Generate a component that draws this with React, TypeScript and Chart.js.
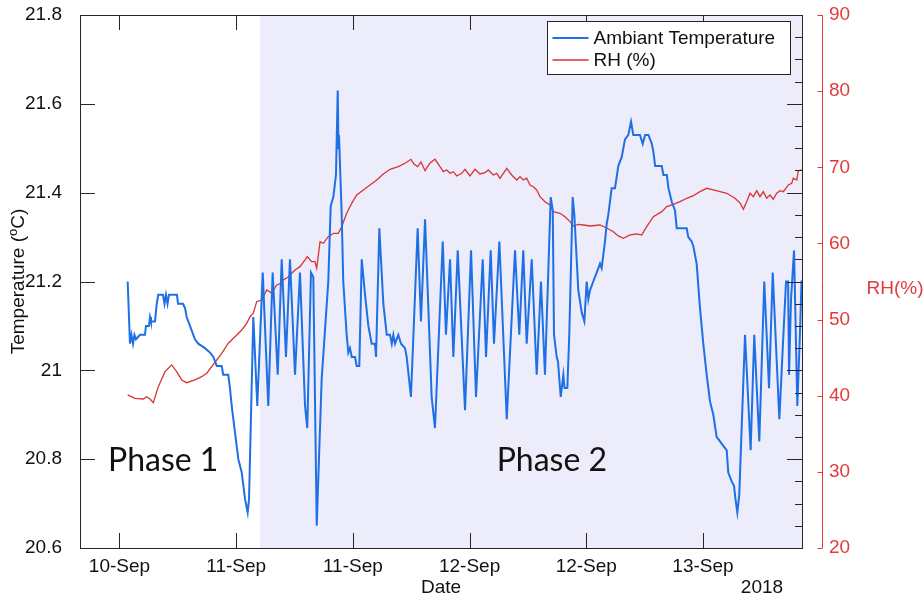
import React, { useEffect, useRef } from "react";
import { Chart, registerables } from "chart.js";
Chart.register(...registerables);

// hours since 10-Sep 00:00
const tempHours = [
  12.84, 13.08, 13.23, 13.39, 13.54, 13.70, 14.11, 14.62, 14.72, 15.03,
  15.14, 15.24, 15.65, 15.83, 15.99, 16.47, 16.63, 16.78, 16.94, 17.09,
  17.91, 18.02, 18.53, 18.74, 18.91, 19.25, 19.59, 19.76, 20.10, 20.79,
  21.31, 21.65, 22.00, 22.51, 22.67, 23.19, 23.36, 23.54, 23.88, 24.22,
  24.57, 24.91, 25.18, 25.32, 25.76, 26.17, 26.73, 27.30, 27.75, 28.27,
  28.68, 29.12, 29.53, 30.05, 30.56, 31.08, 31.31, 31.69, 31.93, 32.28,
  32.79, 33.47, 33.72, 33.99, 34.26, 34.44, 34.52, 34.57, 34.85, 35.01,
  35.36, 35.53, 35.70, 35.88, 36.22, 36.39, 36.66, 36.91, 37.25, 37.59,
  37.76, 37.93, 38.27, 38.38, 38.72, 39.13, 39.48, 39.82, 40.00, 40.16,
  40.33, 40.67, 40.95, 41.36, 41.53, 41.97, 42.66, 43.00, 43.42, 44.10,
  44.44, 45.24, 45.57, 45.99, 46.33, 46.78, 47.53, 48.15, 48.66, 49.35,
  49.69, 50.17, 50.51, 51.06, 51.82, 52.67, 53.11, 53.52, 53.87, 54.39,
  54.90, 55.34, 55.75, 56.34, 56.55, 56.68, 56.96, 57.09, 57.37, 57.64,
  57.76, 58.05, 58.25, 58.60, 58.77, 59.01, 59.18, 59.53, 59.80, 60.04,
  60.21, 60.38, 60.72, 61.07, 61.41, 61.58, 61.92, 62.10, 62.26, 62.61,
  62.95, 63.29, 63.64, 63.98, 64.32, 64.60, 64.83, 65.52, 65.80, 66.05,
  66.39, 66.74, 66.91, 67.08, 67.76, 67.93, 68.28, 68.45, 68.78, 69.12,
  69.30, 70.32, 70.49, 70.84, 71.00, 71.35, 71.69, 72.03, 72.38, 72.72,
  73.06, 73.40, 73.75, 74.09, 74.44, 74.60, 74.95, 75.19, 75.34, 75.53,
  75.73, 76.32, 76.90, 77.27, 77.79, 78.30, 78.79, 79.17, 79.85, 80.20,
  80.54, 80.75, 80.85, 81.05, 81.36, 81.70, 81.98, 82.13, 82.28,
];

const tempValues = [
  21.20, 21.06, 21.08, 21.06, 21.08, 21.07, 21.08, 21.08, 21.10, 21.10,
  21.12, 21.11, 21.11, 21.15, 21.17, 21.17, 21.15, 21.17, 21.15, 21.17,
  21.17, 21.15, 21.15, 21.14, 21.12, 21.10, 21.08, 21.07, 21.06, 21.05,
  21.04, 21.03, 21.01, 21.01, 20.99, 20.99, 20.96, 20.92, 20.86, 20.80,
  20.77, 20.71, 20.68, 20.71, 21.12, 20.92, 21.22, 20.92, 21.22, 20.99,
  21.25, 21.03, 21.25, 20.99, 21.22, 20.92, 20.87, 21.22, 21.21, 20.65,
  20.98, 21.20, 21.37, 21.39, 21.44, 21.63, 21.50, 21.53, 21.35, 21.20,
  21.08, 21.04, 21.05, 21.03, 21.03, 21.01, 21.01, 21.25, 21.17, 21.10,
  21.08, 21.06, 21.06, 21.03, 21.32, 21.15, 21.08, 21.08, 21.06, 21.08,
  21.06, 21.08, 21.06, 21.05, 21.03, 20.94, 21.32, 21.11, 21.34, 20.94,
  20.87, 21.29, 21.08, 21.25, 21.03, 21.27, 20.91, 21.27, 20.94, 21.25,
  21.03, 21.27, 21.06, 21.29, 20.89, 21.27, 21.08, 21.27, 21.06, 21.25,
  20.99, 21.20, 20.99, 21.39, 21.36, 21.08, 21.03, 21.02, 20.94, 20.99,
  20.96, 20.96, 21.08, 21.39, 21.35, 21.25, 21.18, 21.13, 21.11, 21.20,
  21.16, 21.18, 21.20, 21.22, 21.24, 21.23, 21.29, 21.33, 21.35, 21.41,
  21.41, 21.46, 21.48, 21.52, 21.53, 21.56, 21.53, 21.53, 21.51, 21.53,
  21.53, 21.51, 21.49, 21.46, 21.46, 21.44, 21.44, 21.41, 21.38, 21.36,
  21.32, 21.32, 21.30, 21.29, 21.28, 21.24, 21.14, 21.06, 20.99, 20.93,
  20.90, 20.85, 20.84, 20.83, 20.82, 20.77, 20.75, 20.74, 20.71, 20.68,
  20.72, 21.08, 20.82, 21.08, 20.84, 21.20, 20.96, 21.22, 20.89, 21.05,
  21.20, 21.20, 20.99, 21.16, 21.27, 20.92, 21.09, 21.20, 21.20,
];

const rhHours = [
  12.84, 13.59, 14.45, 14.80, 15.14, 15.48, 15.99, 16.68, 17.37, 17.88,
  18.40, 18.91, 19.76, 20.45, 20.97, 21.48, 22.00, 22.51, 23.19, 23.88,
  24.57, 25.08, 25.42, 25.76, 26.11, 26.62, 27.14, 27.65, 28.17, 28.68,
  28.84, 29.36, 29.71, 30.05, 30.56, 31.08, 31.31, 31.76, 32.10, 32.28,
  32.62, 32.96, 33.47, 33.99, 34.50, 34.85, 35.36, 35.88, 36.39, 37.07,
  37.76, 38.45, 39.13, 39.82, 40.67, 41.36, 41.97, 42.28, 42.66, 43.00,
  43.42, 43.93, 44.44, 44.96, 45.30, 45.65, 45.99, 46.33, 46.68, 47.19,
  47.53, 48.04, 48.56, 49.07, 49.58, 49.92, 50.44, 50.79, 51.13, 51.82,
  52.33, 52.85, 53.19, 53.52, 53.87, 54.21, 54.55, 54.90, 55.24, 55.75,
  56.27, 56.61, 57.30, 57.81, 58.33, 58.67, 59.18, 59.69, 60.38, 61.41,
  62.10, 62.78, 63.29, 63.81, 64.50, 65.18, 65.70, 66.21, 66.90, 67.76,
  68.27, 68.95, 69.64, 70.33, 71.01, 71.69, 72.38, 73.06, 73.75, 74.44,
  75.29, 75.81, 76.15, 76.49, 76.84, 77.18, 77.52, 77.86, 78.20, 78.55,
  78.89, 79.23, 79.58, 79.92, 80.26, 80.78, 81.12, 81.29, 81.64, 81.80,
  82.15,
];

const rhValues = [
  40.10, 39.66, 39.57, 39.87, 39.57, 39.08, 41.19, 43.16, 44.04, 43.16,
  42.07, 41.71, 42.07, 42.50, 42.95, 43.81, 44.69, 45.57, 46.89, 47.75,
  48.63, 49.51, 50.38, 50.83, 52.35, 52.57, 53.89, 53.49, 54.54, 54.80,
  55.20, 55.59, 56.08, 56.51, 56.95, 57.83, 58.26, 57.60, 57.60, 56.74,
  60.23, 60.02, 60.89, 61.33, 61.33, 62.20, 63.96, 65.27, 66.36, 67.02,
  67.68, 68.33, 69.12, 69.74, 70.08, 70.53, 71.05, 70.43, 70.08, 70.70,
  69.55, 70.57, 71.05, 70.08, 69.42, 69.65, 69.21, 69.42, 68.86, 69.21,
  69.74, 68.86, 69.74, 69.12, 69.29, 69.65, 68.99, 69.21, 68.56, 69.87,
  68.99, 68.33, 68.77, 68.33, 68.56, 67.68, 67.45, 67.02, 66.14, 65.48,
  65.05, 64.17, 63.96, 63.51, 62.86, 62.29, 62.51, 62.42, 62.29, 62.42,
  62.03, 61.54, 60.98, 60.68, 61.11, 61.24, 61.11, 62.20, 63.51, 64.17,
  64.83, 65.14, 65.48, 65.93, 66.27, 66.80, 67.24, 67.02, 66.80, 66.59,
  65.93, 65.31, 64.49, 65.48, 66.59, 66.14, 66.93, 66.14, 66.80, 65.93,
  66.36, 65.80, 66.59, 66.93, 66.80, 67.68, 67.90, 68.56, 68.33, 69.55,
  69.65,
];

const xTickHours = [12, 24, 36, 48, 60, 72];
const xTickLabels = ["10-Sep", "11-Sep", "11-Sep", "12-Sep", "12-Sep", "13-Sep"];
const xMin = 7.94;
const xMax = 82.18;
const tempTicks = [20.6, 20.8, 21.0, 21.2, 21.4, 21.6, 21.8];
const tempTickLabels = ["20.6", "20.8", "21", "21.2", "21.4", "21.6", "21.8"];
const rhTicks = [20, 30, 40, 50, 60, 70, 80, 90];
const rhTickLabels = ["20", "30", "40", "50", "60", "70", "80", "90"];
const phase2Start = 26.45;
const phaseLabels = ["Phase 1", "Phase 2"];
const phaseLabelHours = [10.82, 50.79];
const phaseLabelTemp = 20.773;
const seriesNames = ["Ambiant Temperature", "RH (%)"];
const yearLabel = "2018";

const BLUE = "#1f6fe5";
const RED = "#d93434";
const RED_AXIS = "#e23a3a";
const AX = "#262626";
const SHADE = "#ececfa";
const FONT = '"Liberation Sans", Arial, sans-serif';
const FS = 19;

const decor = {
  id: "decor",
  beforeDatasetsDraw(chart: any) {
    const { ctx, chartArea: a, scales } = chart;
    const x0 = scales.x.getPixelForValue(phase2Start);
    ctx.save();
    ctx.fillStyle = SHADE;
    ctx.fillRect(x0, a.top, a.right - x0, a.bottom - a.top);
    ctx.restore();
  },
  afterDatasetsDraw(chart: any) {
    const { ctx, chartArea: a, scales } = chart;
    const xs = scales.x, ys = scales.y, rs = scales.y1;
    ctx.save();
    // frame
    ctx.strokeStyle = AX;
    ctx.lineWidth = 1;
    ctx.strokeRect(Math.round(a.left) + 0.5, Math.round(a.top) + 0.5, Math.round(a.right - a.left), Math.round(a.bottom - a.top));
    ctx.beginPath();
    xTickHours.forEach((h) => {
      const px = Math.round(xs.getPixelForValue(h)) + 0.5;
      ctx.moveTo(px, a.bottom);
      ctx.lineTo(px, a.bottom - 15);
      ctx.moveTo(px, a.top);
      ctx.lineTo(px, a.top + 15);
    });
    tempTicks.forEach((t, i) => {
      const py = Math.round(ys.getPixelForValue(t)) + 0.5;
      ctx.moveTo(a.left, py);
      ctx.lineTo(a.left + 15, py);
      ctx.moveTo(a.right, py);
      ctx.lineTo(a.right - 15, py);
      if (i < tempTicks.length - 1) {
        const step = (tempTicks[i + 1] - t) / 4;
        for (let k = 1; k < 4; k++) {
          const my = Math.round(ys.getPixelForValue(t + step * k)) + 0.5;
          ctx.moveTo(a.right, my);
          ctx.lineTo(a.right - 7, my);
        }
      }
    });
    ctx.stroke();
    // red axis
    const rx = Math.round(a.right + 20) + 0.5;
    ctx.strokeStyle = RED_AXIS;
    ctx.beginPath();
    ctx.moveTo(rx, a.top);
    ctx.lineTo(rx, a.bottom);
    rhTicks.forEach((r) => {
      const py = Math.round(rs.getPixelForValue(r)) + 0.5;
      ctx.moveTo(rx, py);
      ctx.lineTo(rx - 5, py);
    });
    ctx.stroke();

    // legend
    const lx = 547.5, ly = 21.5, lw = 243, lh = 53;
    ctx.fillStyle = "#ffffff";
    ctx.fillRect(lx, ly, lw, lh);
    ctx.strokeStyle = AX;
    ctx.strokeRect(lx, ly, lw, lh);
    const rows = [ly + 16.5, ly + 38.5];
    const cols = [BLUE, RED];
    const widths = [2, 1.3];
    ctx.font = `${FS}px ${FONT}`;
    ctx.textBaseline = "middle";
    ctx.textAlign = "left";
    rows.forEach((ry, i) => {
      ctx.strokeStyle = cols[i];
      ctx.lineWidth = widths[i];
      ctx.beginPath();
      ctx.moveTo(lx + 5, ry);
      ctx.lineTo(lx + 41, ry);
      ctx.stroke();
      ctx.fillStyle = "#111";
      ctx.fillText(seriesNames[i], lx + 46, ry + 1);
    });

    // axis titles
    ctx.fillStyle = "#111";
    ctx.textAlign = "center";
    ctx.fillText("Date", (a.left + a.right) / 2, 588);
    ctx.fillText(yearLabel, a.right - 40, 588);
    ctx.fillStyle = RED_AXIS;
    ctx.fillText("RH(%)", 895, (a.top + a.bottom) / 2 + 7);

    // rotated temperature title with superscript
    ctx.save();
    ctx.translate(19, (a.top + a.bottom) / 2);
    ctx.rotate(-Math.PI / 2);
    ctx.fillStyle = "#111";
    ctx.textAlign = "left";
    const p1 = "Temperature (", p2 = "o", p3 = "C)";
    ctx.font = `${FS}px ${FONT}`;
    const w1 = ctx.measureText(p1).width;
    const w3 = ctx.measureText(p3).width;
    ctx.font = `13px ${FONT}`;
    const w2 = ctx.measureText(p2).width;
    const sx = -(w1 + w2 + w3) / 2;
    ctx.font = `${FS}px ${FONT}`;
    ctx.fillText(p1, sx, 0);
    ctx.font = `13px ${FONT}`;
    ctx.fillText(p2, sx + w1, -6);
    ctx.font = `${FS}px ${FONT}`;
    ctx.fillText(p3, sx + w1 + w2, 0);
    ctx.restore();

    // phase labels
    ctx.font = '32px Lato, "DejaVu Sans", sans-serif';
    ctx.fillStyle = "#111";
    ctx.textAlign = "left";
    ctx.textBaseline = "alphabetic";
    phaseLabels.forEach((t, i) => {
      ctx.fillText(t, xs.getPixelForValue(phaseLabelHours[i]), ys.getPixelForValue(phaseLabelTemp));
    });
    ctx.restore();
  },
};

const fitY = (w: number) => (s: any) => {
  s.width = w;
  s.paddingTop = 0;
  s.paddingBottom = 0;
};

export default function App() {
  const ref = useRef<HTMLCanvasElement>(null);
  useEffect(() => {
    const chart = new Chart(ref.current as HTMLCanvasElement, {
      type: "line",
      data: {
        datasets: [
          {
            label: seriesNames[0],
            data: tempHours.map((h, i) => ({ x: h, y: tempValues[i] })),
            borderColor: BLUE,
            borderWidth: 2,
            pointRadius: 0,
            tension: 0,
            yAxisID: "y",
          },
          {
            label: seriesNames[1],
            data: rhHours.map((h, i) => ({ x: h, y: rhValues[i] })),
            borderColor: RED,
            borderWidth: 1.3,
            pointRadius: 0,
            tension: 0,
            yAxisID: "y1",
          },
        ],
      },
      options: {
        responsive: false,
        animation: false,
        devicePixelRatio: 1,
        layout: { padding: { top: 15, left: 0, right: 0, bottom: 0 } },
        plugins: { legend: { display: false }, tooltip: { enabled: false } },
        scales: {
          x: {
            type: "linear",
            min: xMin,
            max: xMax,
            afterFit: (s: any) => { s.height = 52; s.paddingLeft = 0; s.paddingRight = 0; },
            afterBuildTicks: (s: any) => { s.ticks = xTickHours.map((v) => ({ value: v })); },
            ticks: {
              autoSkip: false,
              maxRotation: 0,
              padding: 7,
              color: "#111",
              font: { family: FONT, size: FS },
              callback: (_v: any, i: number) => xTickLabels[i],
            },
            grid: { display: false, drawTicks: false },
            border: { display: false },
          },
          y: {
            type: "linear",
            position: "left",
            min: 20.6,
            max: 21.8,
            afterFit: fitY(80),
            afterBuildTicks: (s: any) => { s.ticks = tempTicks.map((v) => ({ value: v })); },
            ticks: {
              padding: 18,
              color: "#111",
              font: { family: FONT, size: FS },
              callback: (_v: any, i: number) => tempTickLabels[i],
            },
            grid: { display: false, drawTicks: false },
            border: { display: false },
          },
          y1: {
            type: "linear",
            position: "right",
            min: 20,
            max: 90,
            afterFit: fitY(122),
            afterBuildTicks: (s: any) => { s.ticks = rhTicks.map((v) => ({ value: v })); },
            ticks: {
              padding: 27,
              color: RED_AXIS,
              font: { family: FONT, size: FS },
              callback: (_v: any, i: number) => rhTickLabels[i],
            },
            grid: { display: false, drawTicks: false },
            border: { display: false },
          },
        },
      },
      plugins: [decor],
    } as any);
    return () => chart.destroy();
  }, []);
  return (
    <div style={{ position: "fixed", left: 0, top: 0, width: 924, height: 600, background: "#ffffff" }}>
      <canvas ref={ref} width={924} height={600} style={{ display: "block", width: 924, height: 600 }} />
    </div>
  );
}
